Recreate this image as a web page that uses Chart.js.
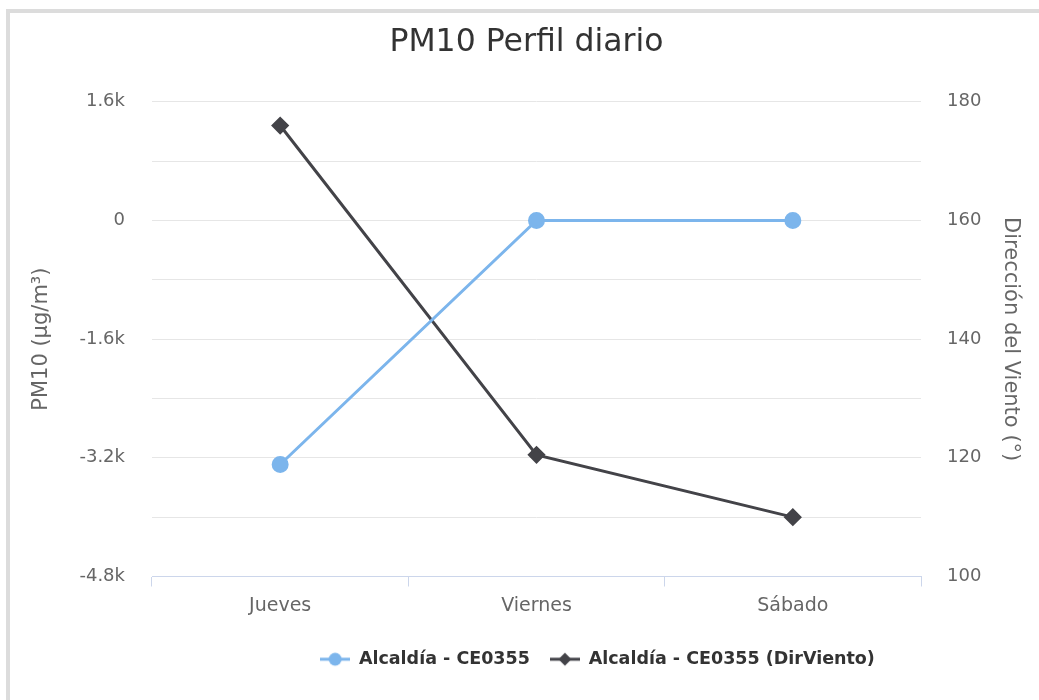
<!DOCTYPE html>
<html>
<head>
<meta charset="utf-8">
<script src="https://cdn.jsdelivr.net/npm/chart.js"></script>
<style>
  body { margin: 0; background: #fff; font-family: "DejaVu Sans", sans-serif; }
  #frame {
    position: absolute; left: 6px; top: 9px; width: 1100px; height: 800px;
    border-top: 4px solid #dcdcdc; border-left: 4px solid #dcdcdc;
  }
  #wrap { position: absolute; left: 0; top: 0; width: 1039px; height: 700px; }
</style>
</head>
<body>
<div id="frame"></div>
<div id="wrap"><canvas id="chart" width="1039" height="700"></canvas></div>
<script>
const days = ['Jueves', 'Viernes', 'Sábado'];
const pm10 = [-3290, 0, 0];
const dirViento = [176, 120.5, 110];
const seriesNames = ['Alcaldía - CE0355', 'Alcaldía - CE0355 (DirViento)'];

const blue = '#7cb5ec';
const dark = '#434348';
const FONT = "'DejaVu Sans', sans-serif";

// legend symbol: short line with the marker on it
function legendSymbol(color, shape) {
  const c = document.createElement('canvas');
  c.width = 30; c.height = 16;
  const g = c.getContext('2d');
  g.strokeStyle = color; g.lineWidth = 3;
  g.beginPath(); g.moveTo(0, 8); g.lineTo(30, 8); g.stroke();
  g.fillStyle = color;
  g.beginPath();
  if (shape === 'circle') {
    g.arc(15, 8, 6.5, 0, Math.PI * 2);
  } else {
    g.moveTo(15, 1.5); g.lineTo(21.5, 8); g.lineTo(15, 14.5); g.lineTo(8.5, 8); g.closePath();
  }
  g.fill();
  return c;
}
const symbols = [legendSymbol(blue, 'circle'), legendSymbol(dark, 'diamond')];

// nudge title and legend sideways like in the original
const shiftBlocks = {
  id: 'shiftBlocks',
  afterLayout(chart) {
    chart.legend.left += 77;
    chart.legend.right += 77;
    chart.titleBlock.left += 6;
    chart.titleBlock.right += 6;
  }
};

new Chart(document.getElementById('chart'), {
  type: 'line',
  data: {
    labels: days,
    datasets: [{
      label: seriesNames[0],
      data: pm10,
      yAxisID: 'y',
      borderColor: blue,
      backgroundColor: blue,
      borderWidth: 3,
      pointStyle: 'circle',
      pointRadius: 7,
      pointHoverRadius: 7
    }, {
      label: seriesNames[1],
      data: dirViento,
      yAxisID: 'y1',
      borderColor: dark,
      backgroundColor: dark,
      borderWidth: 3,
      pointStyle: 'rectRot',
      pointRadius: 7,
      pointHoverRadius: 7
    }]
  },
  plugins: [shiftBlocks],
  options: {
    responsive: false,
    animation: false,
    layout: { padding: { left: 14, right: 12, bottom: 22 } },
    plugins: {
      title: {
        display: true,
        text: 'PM10 Perfil diario',
        color: '#333333',
        font: { family: FONT, size: 31.5, weight: 'normal' },
        padding: { top: 24, bottom: 40 }
      },
      legend: {
        position: 'bottom',
        labels: {
          usePointStyle: true,
          pointStyleWidth: 30,
          boxHeight: 16,
          color: '#333333',
          font: { family: FONT, size: 17.5, weight: 'bold' },
          padding: 20,
          generateLabels(chart) {
            return chart.data.datasets.map((ds, i) => ({
              text: ds.label,
              pointStyle: symbols[i],
              fillStyle: ds.borderColor,
              strokeStyle: ds.borderColor,
              fontColor: '#333333',
              hidden: false,
              datasetIndex: i
            }));
          }
        }
      },
      tooltip: { enabled: false }
    },
    scales: {
      x: {
        offset: true,
        grid: { offset: true, drawOnChartArea: false, color: '#ccd6eb', tickLength: 10 },
        border: { color: '#ccd6eb' },
        ticks: { color: '#666666', padding: 8, font: { family: FONT, size: 19 } },
        afterFit(axis) { axis.height = 54; }
      },
      y: {
        position: 'left',
        min: -4800, max: 1600,
        grid: { color: '#e6e6e6', drawTicks: false },
        border: { display: false },
        ticks: {
          stepSize: 800,
          color: '#666666',
          padding: 27,
          font: { family: FONT, size: 18 },
          callback(v) {
            if (v % 1600 !== 0) return '';
            return v === 0 ? '0' : (v / 1000) + 'k';
          }
        },
        title: {
          display: true, text: 'PM10 (µg/m³)', color: '#666666',
          font: { family: FONT, size: 21 }, padding: { top: 15, bottom: 0 }
        },
        afterFit(axis) { axis.width = 138; }
      },
      y1: {
        position: 'right',
        min: 100, max: 180,
        grid: { drawOnChartArea: false, drawTicks: false },
        border: { display: false },
        ticks: {
          stepSize: 10,
          color: '#666666',
          padding: 26,
          font: { family: FONT, size: 18 },
          callback(v) { return v % 20 === 0 ? String(v) : ''; }
        },
        title: {
          display: true, text: 'Dirección del Viento (°)', color: '#666666',
          font: { family: FONT, size: 21 }, padding: { top: 4, bottom: 0 }
        },
        afterFit(axis) { axis.width = 106; }
      }
    }
  }
});
</script>
</body>
</html>
